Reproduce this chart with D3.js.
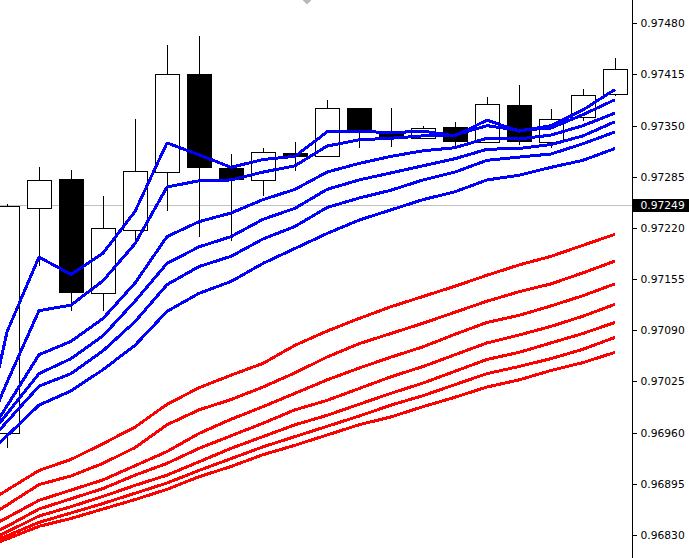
<!DOCTYPE html>
<html>
<head>
<meta charset="utf-8">
<script src="https://cdn.jsdelivr.net/npm/d3@7"></script>
<style>
  html, body { margin: 0; padding: 0; background: #fff; }
  svg { display: block; }
</style>
</head>
<body>
<div id="chart"></div>
<script>
// candles, left to right (bar index 0..19)
const opens  = [0.96960, 0.97246, 0.97282, 0.97138, 0.97218, 0.97291, 0.97415, 0.97296, 0.97281, 0.97315,
                0.97312, 0.97372, 0.97341, 0.97334, 0.97348, 0.97329, 0.97376, 0.97329, 0.97361, 0.97390];
const highs  = [0.97250, 0.97298, 0.97294, 0.97261, 0.97359, 0.97452, 0.97464, 0.97314, 0.97322, 0.97329,
                0.97383, 0.97373, 0.97372, 0.97350, 0.97355, 0.97387, 0.97402, 0.97371, 0.97397, 0.97436];
const lows   = [0.96941, 0.97172, 0.97115, 0.97114, 0.97202, 0.97241, 0.97208, 0.97203, 0.97261, 0.97292,
                0.97311, 0.97321, 0.97323, 0.97333, 0.97323, 0.97329, 0.97326, 0.97321, 0.97356, 0.97388];
const closes = [0.97248, 0.97281, 0.97139, 0.97220, 0.97292, 0.97415, 0.97297, 0.97282, 0.97316, 0.97312,
                0.97373, 0.97345, 0.97336, 0.97347, 0.97330, 0.97377, 0.97330, 0.97359, 0.97389, 0.97422];

// moving averages, bar index -1..19
const blue1 = [0.96905, 0.97088, 0.97183, 0.97161, 0.97188, 0.97241, 0.97328, 0.97313, 0.97297, 0.97307, 0.97311,
               0.97342, 0.97343, 0.97341, 0.97343, 0.97337, 0.97357, 0.97343, 0.97350, 0.97370, 0.97396];
const blue2 = [0.96927, 0.97024, 0.97115, 0.97122, 0.97153, 0.97200, 0.97272, 0.97280, 0.97281, 0.97291, 0.97299,
               0.97324, 0.97332, 0.97334, 0.97337, 0.97338, 0.97350, 0.97344, 0.97347, 0.97364, 0.97383];
const blue3 = [0.96929, 0.96994, 0.97059, 0.97076, 0.97105, 0.97150, 0.97209, 0.97228, 0.97239, 0.97256, 0.97269,
               0.97291, 0.97302, 0.97311, 0.97318, 0.97322, 0.97334, 0.97333, 0.97338, 0.97350, 0.97366];
const blue4 = [0.96933, 0.96984, 0.97035, 0.97054, 0.97083, 0.97127, 0.97175, 0.97196, 0.97209, 0.97231, 0.97245,
               0.97269, 0.97281, 0.97290, 0.97299, 0.97308, 0.97320, 0.97321, 0.97326, 0.97337, 0.97355];
const blue5 = [0.96928, 0.96974, 0.97019, 0.97035, 0.97064, 0.97101, 0.97148, 0.97171, 0.97184, 0.97206, 0.97222,
               0.97246, 0.97258, 0.97268, 0.97281, 0.97291, 0.97306, 0.97310, 0.97314, 0.97327, 0.97342];
const blue6 = [0.96916, 0.96956, 0.96995, 0.97013, 0.97040, 0.97071, 0.97114, 0.97137, 0.97152, 0.97175, 0.97194,
               0.97213, 0.97230, 0.97243, 0.97256, 0.97266, 0.97281, 0.97287, 0.97297, 0.97306, 0.97321];

const red1 = [0.96862, 0.96887, 0.96912, 0.96926, 0.96946, 0.96967, 0.96996, 0.97017, 0.97033, 0.97048, 0.97071,
              0.97089, 0.97105, 0.97120, 0.97133, 0.97146, 0.97160, 0.97173, 0.97184, 0.97198, 0.97212];
const red2 = [0.96843, 0.96868, 0.96894, 0.96905, 0.96921, 0.96941, 0.96970, 0.96989, 0.97002, 0.97018, 0.97036,
              0.97056, 0.97073, 0.97086, 0.97099, 0.97113, 0.97127, 0.97139, 0.97149, 0.97163, 0.97178];
const red3 = [0.96830, 0.96852, 0.96874, 0.96887, 0.96900, 0.96918, 0.96936, 0.96959, 0.96977, 0.96993, 0.97010,
              0.97027, 0.97042, 0.97056, 0.97069, 0.97085, 0.97100, 0.97109, 0.97121, 0.97134, 0.97149];
const red4 = [0.96820, 0.96841, 0.96863, 0.96876, 0.96889, 0.96906, 0.96921, 0.96940, 0.96956, 0.96972, 0.96989,
              0.97001, 0.97016, 0.97031, 0.97044, 0.97059, 0.97074, 0.97084, 0.97095, 0.97108, 0.97123];
const red5 = [0.96815, 0.96834, 0.96854, 0.96866, 0.96879, 0.96893, 0.96906, 0.96923, 0.96940, 0.96955, 0.96970,
              0.96982, 0.96996, 0.97010, 0.97023, 0.97038, 0.97053, 0.97062, 0.97074, 0.97086, 0.97100];
const red6 = [0.96813, 0.96829, 0.96846, 0.96858, 0.96870, 0.96883, 0.96896, 0.96912, 0.96927, 0.96942, 0.96955,
              0.96968, 0.96981, 0.96995, 0.97007, 0.97021, 0.97035, 0.97044, 0.97054, 0.97066, 0.97081];
const red7 = [0.96810, 0.96825, 0.96841, 0.96851, 0.96863, 0.96875, 0.96888, 0.96904, 0.96917, 0.96932, 0.96944,
              0.96957, 0.96970, 0.96980, 0.96993, 0.97005, 0.97018, 0.97027, 0.97039, 0.97049, 0.97062];

const priceTicks = [0.97480, 0.97415, 0.97350, 0.97285, 0.97220, 0.97155, 0.97090, 0.97025, 0.96960, 0.96895, 0.96830];
const currentPrice = 0.97249;

const width = 689;
const height = 558;
const axisX = 632;

const svg = d3.select("#chart")
  .append("svg")
  .attr("width", width)
  .attr("height", height)
  .style("font-family", "'DejaVu Sans', Tahoma, sans-serif");

const x = d3.scaleLinear().domain([0, 19]).range([7, 615]);
const y = d3.scaleLinear().domain([0.96830, 0.97480]).range([535, 23.3]);

const plot = svg.append("g");

// current price line
plot.append("line")
  .attr("x1", 0).attr("x2", axisX)
  .attr("y1", Math.round(y(currentPrice)) + 0.5)
  .attr("y2", Math.round(y(currentPrice)) + 0.5)
  .attr("stroke", "#c0c0c0")
  .attr("stroke-width", 1);

// chart shift marker at the top
plot.append("path")
  .attr("d", "M302.5,0 L311.5,0 L307,4.5 Z")
  .attr("fill", "#b8b8b8");

// candles
const candles = opens.map((o, i) => ({ i, o, h: highs[i], l: lows[i], c: closes[i] }));

const cg = plot.selectAll("g.candle")
  .data(candles)
  .enter()
  .append("g")
  .attr("class", "candle")
  .attr("shape-rendering", "crispEdges");

cg.append("line")
  .attr("x1", d => x(d.i) + 0.5)
  .attr("x2", d => x(d.i) + 0.5)
  .attr("y1", d => Math.round(y(d.h)))
  .attr("y2", d => Math.round(y(d.l)))
  .attr("stroke", "#000")
  .attr("stroke-width", 1);

cg.append("rect")
  .attr("x", d => x(d.i) - 12 + 0.5)
  .attr("y", d => Math.round(y(Math.max(d.o, d.c))) + 0.5)
  .attr("width", 24)
  .attr("height", d => Math.max(1, Math.round(y(Math.min(d.o, d.c))) - Math.round(y(Math.max(d.o, d.c)))))
  .attr("fill", d => d.c < d.o ? "#000" : "#fff")
  .attr("stroke", "#000")
  .attr("stroke-width", 1);

// moving averages (aliased, like the terminal draws them)
const line = d3.line()
  .x((d, k) => x(k - 1))
  .y(d => y(d));

const redLines = [red1, red2, red3, red4, red5, red6, red7];
const blueLines = [blue1, blue2, blue3, blue4, blue5, blue6];

plot.selectAll("path.red")
  .data(redLines)
  .enter()
  .append("path")
  .attr("class", "red")
  .attr("d", line)
  .attr("fill", "none")
  .attr("stroke", "#ff0000")
  .attr("stroke-width", 3)
  .attr("stroke-linejoin", "round")
  .attr("shape-rendering", "crispEdges");

plot.selectAll("path.blue")
  .data(blueLines)
  .enter()
  .append("path")
  .attr("class", "blue")
  .attr("d", line)
  .attr("fill", "none")
  .attr("stroke", "#0000ff")
  .attr("stroke-width", 3)
  .attr("stroke-linejoin", "round")
  .attr("shape-rendering", "crispEdges");

// white strip behind the price scale
svg.append("rect")
  .attr("x", axisX)
  .attr("y", 0)
  .attr("width", width - axisX)
  .attr("height", height)
  .attr("fill", "#fff");

// price axis
svg.append("line")
  .attr("x1", axisX + 0.5).attr("x2", axisX + 0.5)
  .attr("y1", 0).attr("y2", height)
  .attr("stroke", "#000")
  .attr("shape-rendering", "crispEdges");

const axis = d3.axisRight(y)
  .tickValues(priceTicks)
  .tickFormat(d3.format(".5f"))
  .tickSize(4)
  .tickPadding(4);

const ag = svg.append("g")
  .attr("transform", `translate(${axisX + 0.5},0)`)
  .call(axis);

ag.select(".domain").remove();
ag.selectAll(".tick line").attr("stroke", "#000").attr("shape-rendering", "crispEdges");
ag.selectAll(".tick text")
  .attr("fill", "#000")
  .style("font-family", "'DejaVu Sans', Tahoma, sans-serif")
  .style("font-size", "10.7px");

// current price label
const cy = Math.round(y(currentPrice));
svg.append("rect")
  .attr("x", axisX + 1)
  .attr("y", cy - 6)
  .attr("width", width - axisX - 1)
  .attr("height", 13)
  .attr("fill", "#000");

svg.append("text")
  .attr("x", axisX + 8.5)
  .attr("y", cy)
  .attr("dy", "0.36em")
  .attr("fill", "#fff")
  .style("font-size", "10.7px")
  .text(d3.format(".5f")(currentPrice));
</script>
</body>
</html>
